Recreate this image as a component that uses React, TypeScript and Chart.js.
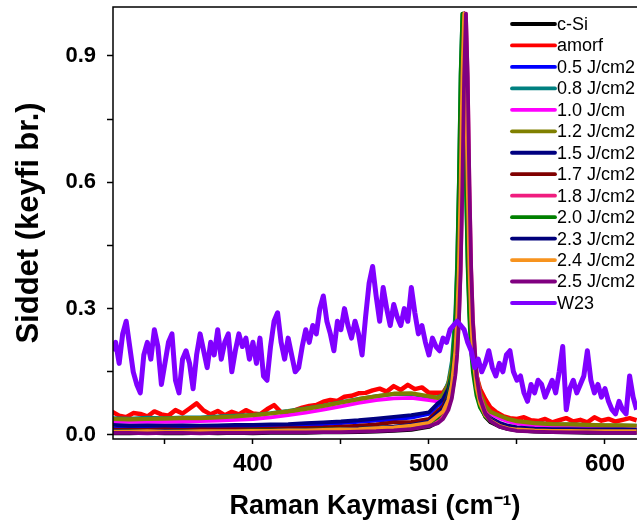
import { useEffect, useRef } from "react";
import { Chart, registerables } from "chart.js";

Chart.register(...registerables);

const FONT = "'Liberation Sans', Arial, sans-serif";

const LABELS = [
  "c-Si", "amorf", "0.5 J/cm2", "0.8 J/cm2", "1.0 J/cm", "1.2 J/cm2", "1.5 J/cm2",
  "1.7 J/cm2", "1.8 J/cm2", "2.0 J/cm2", "2.3 J/cm2", "2.4 J/cm2", "2.5 J/cm2", "W23",
];
const COLORS = [
  "#000000", "#FF0000", "#0000FF", "#008080", "#FF00FF", "#808000", "#000080",
  "#800000", "#F01D7F", "#008000", "#00007A", "#F7931E", "#800080", "#8000FF",
];
const WIDTHS = [3.8, 4.5, 3.8, 3.8, 3.8, 4.2, 3.8, 3.8, 3.8, 3.8, 3.8, 3.8, 3.8, 5];

const X_TICKS = [350, 400, 450, 500, 550, 600];
const X_LABELED = [400, 500, 600];
const Y_TICKS = [0, 0.15, 0.3, 0.45, 0.6, 0.75, 0.9];
const Y_LABELED = [0, 0.3, 0.6, 0.9];

const X_SMOOTH = [
  320, 330, 340, 350, 360, 370, 380, 390, 400, 410, 420, 430, 440, 450, 460, 470, 480, 490, 500,
  505, 508, 511, 513, 515, 516, 517, 518, 519, 520, 521, 522, 523, 524, 525, 527, 529, 532, 535,
  540, 545, 550, 560, 570, 580, 590, 600, 610, 618,
];

const Y_CSI = [
  0.004, 0.004, 0.005, 0.004, 0.004, 0.005, 0.004, 0.005, 0.004, 0.005, 0.005, 0.005, 0.006, 0.006, 0.007, 0.008, 0.01, 0.012, 0.019,
  0.03, 0.043, 0.071, 0.109, 0.19, 0.267, 0.39, 0.59, 0.85, 1.0, 0.85, 0.59, 0.39, 0.267, 0.19, 0.109, 0.071, 0.043, 0.03,
  0.02, 0.014, 0.011, 0.008, 0.007, 0.006, 0.005, 0.005, 0.005, 0.005,
];
const Y_P05 = [
  0.016, 0.015, 0.016, 0.016, 0.017, 0.016, 0.017, 0.018, 0.019, 0.02, 0.021, 0.023, 0.025, 0.028, 0.031, 0.034, 0.037, 0.041, 0.05,
  0.07, 0.075, 0.1, 0.135, 0.21, 0.285, 0.405, 0.6, 0.855, 1.0, 0.855, 0.595, 0.395, 0.272, 0.196, 0.116, 0.079, 0.052, 0.04,
  0.027, 0.02, 0.017, 0.014, 0.013, 0.013, 0.012, 0.012, 0.012, 0.011,
];
const Y_P08 = [
  0.04, 0.039, 0.041, 0.04, 0.042, 0.042, 0.044, 0.046, 0.048, 0.052, 0.057, 0.063, 0.07, 0.078, 0.086, 0.092, 0.097, 0.097, 0.09,
  0.09, 0.095, 0.125, 0.175, 0.29, 0.41, 0.6, 0.86, 1.0, 0.86, 0.6, 0.41, 0.29, 0.22, 0.175, 0.12, 0.09, 0.065, 0.053,
  0.045, 0.037, 0.032, 0.028, 0.026, 0.025, 0.024, 0.023, 0.022, 0.022,
];
const Y_P10 = [
  0.032, 0.031, 0.032, 0.031, 0.032, 0.033, 0.034, 0.036, 0.038, 0.042, 0.047, 0.053, 0.06, 0.068, 0.076, 0.083, 0.087, 0.088, 0.083,
  0.08, 0.085, 0.11, 0.15, 0.23, 0.305, 0.42, 0.615, 0.86, 1.0, 0.86, 0.61, 0.41, 0.29, 0.215, 0.135, 0.095, 0.065, 0.05,
  0.04, 0.032, 0.027, 0.023, 0.021, 0.02, 0.02, 0.019, 0.019, 0.018,
];
const Y_P12 = [
  0.038, 0.037, 0.038, 0.039, 0.04, 0.04, 0.042, 0.044, 0.047, 0.051, 0.056, 0.062, 0.069, 0.077, 0.085, 0.092, 0.098, 0.099, 0.092,
  0.088, 0.095, 0.12, 0.16, 0.24, 0.315, 0.43, 0.62, 0.865, 1.0, 0.865, 0.615, 0.42, 0.3, 0.225, 0.145, 0.1, 0.07, 0.055,
  0.046, 0.038, 0.033, 0.028, 0.026, 0.025, 0.024, 0.023, 0.023, 0.022,
];
const Y_P15 = [
  0.024, 0.022, 0.023, 0.022, 0.023, 0.022, 0.023, 0.024, 0.024, 0.025, 0.026, 0.028, 0.03, 0.032, 0.035, 0.039, 0.043, 0.047, 0.054,
  0.075, 0.085, 0.11, 0.145, 0.22, 0.295, 0.415, 0.605, 0.855, 1.0, 0.855, 0.6, 0.4, 0.275, 0.198, 0.118, 0.08, 0.052, 0.04,
  0.029, 0.022, 0.018, 0.015, 0.014, 0.014, 0.013, 0.013, 0.013, 0.012,
];
const Y_P17 = [
  0.013, 0.012, 0.012, 0.013, 0.012, 0.013, 0.013, 0.014, 0.014, 0.015, 0.016, 0.017, 0.018, 0.02, 0.022, 0.025, 0.03, 0.031, 0.038,
  0.058, 0.068, 0.095, 0.13, 0.21, 0.285, 0.405, 0.6, 0.855, 1.0, 0.855, 0.597, 0.396, 0.272, 0.195, 0.114, 0.076, 0.048, 0.035,
  0.024, 0.018, 0.015, 0.012, 0.011, 0.011, 0.011, 0.01, 0.01, 0.01,
];
const Y_P18 = [
  0.009, 0.008, 0.009, 0.009, 0.008, 0.009, 0.009, 0.01, 0.01, 0.01, 0.011, 0.011, 0.012, 0.013, 0.014, 0.016, 0.018, 0.02, 0.026,
  0.035, 0.044, 0.065, 0.093, 0.148, 0.195, 0.272, 0.395, 0.595, 0.853, 1.0, 0.853, 0.595, 0.395, 0.272, 0.148, 0.093, 0.056, 0.038,
  0.024, 0.017, 0.013, 0.01, 0.009, 0.009, 0.009, 0.008, 0.008, 0.008,
];
const Y_P20 = [
  0.009, 0.009, 0.01, 0.009, 0.009, 0.01, 0.01, 0.01, 0.011, 0.011, 0.011, 0.012, 0.013, 0.014, 0.015, 0.017, 0.019, 0.022, 0.029,
  0.042, 0.058, 0.094, 0.148, 0.272, 0.395, 0.595, 0.853, 1.0, 0.853, 0.595, 0.395, 0.272, 0.195, 0.148, 0.093, 0.065, 0.044, 0.033,
  0.022, 0.016, 0.013, 0.011, 0.01, 0.01, 0.009, 0.009, 0.009, 0.009,
];
const Y_P23 = [
  0.009, 0.008, 0.009, 0.009, 0.008, 0.009, 0.009, 0.009, 0.01, 0.01, 0.011, 0.011, 0.012, 0.013, 0.015, 0.017, 0.02, 0.024, 0.032,
  0.052, 0.062, 0.09, 0.127, 0.205, 0.28, 0.4, 0.6, 0.853, 1.0, 0.853, 0.595, 0.397, 0.274, 0.197, 0.116, 0.078, 0.05, 0.037,
  0.025, 0.019, 0.016, 0.013, 0.012, 0.012, 0.011, 0.011, 0.011, 0.011,
];
const Y_P24 = [
  0.008, 0.008, 0.009, 0.008, 0.008, 0.009, 0.009, 0.009, 0.01, 0.01, 0.011, 0.011, 0.012, 0.013, 0.014, 0.016, 0.018, 0.022, 0.029,
  0.046, 0.056, 0.083, 0.12, 0.2, 0.275, 0.397, 0.595, 0.852, 1.0, 0.852, 0.595, 0.394, 0.27, 0.193, 0.113, 0.075, 0.047, 0.034,
  0.022, 0.016, 0.013, 0.011, 0.01, 0.01, 0.009, 0.009, 0.009, 0.009,
];
const Y_P25 = [
  0.005, 0.005, 0.004, 0.005, 0.005, 0.004, 0.005, 0.005, 0.005, 0.006, 0.006, 0.006, 0.007, 0.007, 0.008, 0.009, 0.011, 0.014, 0.021,
  0.028, 0.038, 0.059, 0.087, 0.142, 0.19, 0.267, 0.39, 0.59, 0.85, 1.0, 0.85, 0.59, 0.39, 0.267, 0.142, 0.087, 0.05, 0.033,
  0.02, 0.014, 0.01, 0.008, 0.007, 0.006, 0.006, 0.005, 0.005, 0.005,
];

const X_AMORF = [
  320, 324, 328, 332, 336, 340, 344, 348, 352, 356, 360, 364, 368, 372, 376, 380, 384, 388, 392, 396,
  400, 404, 408, 412, 416, 420, 424, 428, 432, 436, 440, 444, 448, 452, 456, 460, 464, 468, 472, 476,
  480, 484, 488, 492, 496, 500,
  505, 508, 511, 513, 515, 516, 517, 518, 519, 520, 521, 522, 523, 524, 525, 527, 529, 532, 535,
  538, 542, 546, 550, 554, 558, 562, 566, 570, 574, 578, 582, 586, 590, 594, 598, 602, 606, 610, 614, 618,
];
const Y_AMORF = [
  0.055, 0.046, 0.042, 0.052, 0.05, 0.044, 0.056, 0.049, 0.046, 0.059, 0.051, 0.063, 0.075, 0.058, 0.049, 0.057, 0.047, 0.055, 0.049, 0.059,
  0.051, 0.049, 0.061, 0.071, 0.054, 0.051, 0.059, 0.065, 0.069, 0.071, 0.079, 0.083, 0.081, 0.091, 0.093, 0.099, 0.1, 0.106, 0.11, 0.103,
  0.116, 0.107, 0.119, 0.109, 0.113, 0.1,
  0.1, 0.1, 0.12, 0.155, 0.23, 0.305, 0.42, 0.615, 0.86, 1.0, 0.86, 0.6, 0.41, 0.29, 0.215, 0.14, 0.11, 0.085, 0.065,
  0.055, 0.045, 0.04, 0.038, 0.042, 0.035, 0.033, 0.038, 0.03, 0.035, 0.04, 0.032, 0.036, 0.03, 0.042, 0.034, 0.038, 0.032, 0.036, 0.04, 0.035,
];

const X_W23 = [
  320, 322, 324, 326, 328, 330, 332, 334, 336, 338,
  340, 342, 344, 346, 348, 350, 352, 354, 356, 358,
  360, 362, 364, 366, 368, 370, 372, 374, 376, 378,
  380, 382, 384, 386, 388, 390, 392, 394, 396, 398,
  400, 402, 404, 406, 408, 410, 412, 414, 416, 418,
  420, 422, 424, 426, 428, 430, 432, 434, 436, 438,
  440, 442, 444, 446, 448, 450, 452, 454, 456, 458,
  460, 462, 464, 466, 468, 470, 472, 474, 476, 478,
  480, 482, 484, 486, 488, 490, 492, 494, 496, 498,
  500, 502, 504, 506, 508, 510, 512, 514, 516, 518,
  520, 522, 524, 526, 528, 530, 532, 534, 536, 538,
  540, 542, 544, 546, 548, 550, 552, 554, 556, 558,
  560, 562, 564, 566, 568, 570, 572, 574, 576, 578,
  580, 582, 584, 586, 588, 590, 592, 594, 596, 598,
  600, 602, 604, 606, 608, 610, 612, 614, 616, 618,
];
const Y_W23 = [
  0.20, 0.22, 0.17, 0.24, 0.27, 0.21, 0.15, 0.12, 0.10, 0.19,
  0.22, 0.18, 0.25, 0.21, 0.12, 0.17, 0.22, 0.24, 0.13, 0.10,
  0.18, 0.20, 0.17, 0.11, 0.19, 0.24, 0.20, 0.16, 0.22, 0.19,
  0.25, 0.18, 0.22, 0.24, 0.15, 0.20, 0.24, 0.21, 0.23, 0.18,
  0.22, 0.17, 0.23, 0.14, 0.13, 0.21, 0.27, 0.29, 0.22, 0.18,
  0.23, 0.19, 0.15, 0.16, 0.21, 0.25, 0.22, 0.26, 0.24, 0.30,
  0.33, 0.27, 0.24, 0.20, 0.27, 0.25, 0.30, 0.26, 0.23, 0.27,
  0.24, 0.19, 0.28, 0.36, 0.40, 0.33, 0.27, 0.35, 0.30, 0.26,
  0.31, 0.28, 0.26, 0.30, 0.27, 0.35, 0.29, 0.24, 0.26, 0.22,
  0.19, 0.23, 0.21, 0.20, 0.23, 0.22, 0.25, 0.26, 0.27, 0.26,
  0.25, 0.22, 0.20, 0.16, 0.18, 0.15, 0.17, 0.20, 0.16, 0.14,
  0.17, 0.15, 0.19, 0.20, 0.15, 0.13, 0.14, 0.10, 0.08, 0.12,
  0.10, 0.13, 0.12, 0.09, 0.11, 0.13, 0.10, 0.15, 0.21, 0.06,
  0.11, 0.13, 0.10, 0.12, 0.14, 0.20, 0.13, 0.10, 0.12, 0.09,
  0.11, 0.08, 0.06, 0.05, 0.08, 0.06, 0.05, 0.14, 0.09, 0.06,
];

const SERIES_X = [
  X_SMOOTH, X_AMORF, X_SMOOTH, X_SMOOTH, X_SMOOTH, X_SMOOTH, X_SMOOTH,
  X_SMOOTH, X_SMOOTH, X_SMOOTH, X_SMOOTH, X_SMOOTH, X_SMOOTH, X_W23,
];
const SERIES_Y = [
  Y_CSI, Y_AMORF, Y_P05, Y_P08, Y_P10, Y_P12, Y_P15,
  Y_P17, Y_P18, Y_P20, Y_P23, Y_P24, Y_P25, Y_W23,
];

const framePlugin = {
  id: "frame",
  afterDraw(chart: any) {
    const { ctx, chartArea } = chart;
    const { left, top, right, bottom } = chartArea;
    ctx.save();
    ctx.strokeStyle = "#000";
    ctx.lineWidth = 1.5;
    ctx.beginPath();
    ctx.moveTo(right + 2, top);
    ctx.lineTo(left, top);
    ctx.lineTo(left, bottom);
    ctx.lineTo(right + 2, bottom);
    ctx.stroke();

    const x0 = 512;
    const x1 = 555;
    const y0 = 24;
    const dy = 21.46;
    ctx.font = `18px ${FONT}`;
    ctx.textBaseline = "middle";
    ctx.textAlign = "left";
    LABELS.forEach((label, i) => {
      const y = y0 + i * dy;
      ctx.strokeStyle = COLORS[i];
      ctx.lineWidth = 3.8;
      ctx.lineCap = "round";
      ctx.beginPath();
      ctx.moveTo(x0, y);
      ctx.lineTo(x1, y);
      ctx.stroke();
      ctx.fillStyle = "#000";
      ctx.fillText(label, x1 + 2, y + 1);
    });
    ctx.restore();
  },
};

const zeroPad = (s: any) => {
  s.paddingTop = 0;
  s.paddingBottom = 0;
  s.paddingLeft = 0;
  s.paddingRight = 0;
};

export default function App() {
  const ref = useRef<HTMLCanvasElement | null>(null);

  useEffect(() => {
    if (!ref.current) return;
    const n = LABELS.length;
    const datasets = LABELS.map((label, i) => ({
      label,
      data: SERIES_X[i].map((x, k) => ({ x, y: SERIES_Y[i][k] })),
      borderColor: COLORS[i],
      backgroundColor: COLORS[i],
      borderWidth: WIDTHS[i],
      borderJoinStyle: "round",
      pointRadius: 0,
      tension: 0,
      order: n - 1 - i,
    }));

    const chart = new Chart(ref.current, {
      type: "line",
      data: { datasets },
      plugins: [framePlugin],
      options: {
        responsive: false,
        animation: false,
        devicePixelRatio: 1,
        layout: { padding: { top: 7, right: 0, left: 0, bottom: 0 } },
        plugins: { legend: { display: false }, tooltip: { enabled: false } },
        scales: {
          x: {
            type: "linear",
            min: 320.5,
            max: 618.2,
            afterBuildTicks: (s: any) => {
              s.ticks = X_TICKS.map((v) => ({ value: v }));
            },
            afterFit: (s: any) => {
              s.height = 88;
              zeroPad(s);
            },
            ticks: {
              autoSkip: false,
              maxRotation: 0,
              color: "#000",
              padding: 6,
              font: { family: FONT, size: 24, weight: "bold" },
              callback: (v: any) => (X_LABELED.includes(v) ? String(v) : ""),
            },
            grid: {
              drawOnChartArea: false,
              drawTicks: true,
              tickLength: 5,
              tickColor: "#000",
              tickWidth: 1.5,
            },
            border: { display: false },
            title: {
              display: true,
              text: "Raman Kaymasi (cm⁻¹)",
              color: "#000",
              font: { family: FONT, size: 27, weight: "bold" },
              padding: { top: 0, bottom: 4 },
            },
          },
          y: {
            type: "linear",
            min: -0.0095,
            max: 1.016,
            afterBuildTicks: (s: any) => {
              s.ticks = Y_TICKS.map((v) => ({ value: v }));
            },
            afterFit: (s: any) => {
              s.width = 113;
              zeroPad(s);
            },
            ticks: {
              autoSkip: false,
              color: "#000",
              padding: 11,
              font: { family: FONT, size: 22, weight: "bold" },
              callback: (v: any) => (Y_LABELED.includes(v) ? Number(v).toFixed(1) : ""),
            },
            grid: {
              drawOnChartArea: false,
              drawTicks: true,
              tickLength: 6,
              tickColor: "#000",
              tickWidth: 1.5,
            },
            border: { display: false },
            title: {
              display: true,
              text: "Siddet (keyfi br.)",
              color: "#000",
              font: { family: FONT, size: 31, weight: "bold" },
              padding: { top: 11, bottom: 0 },
            },
          },
        },
      },
    } as any);

    return () => chart.destroy();
  }, []);

  return (
    <div style={{ position: "absolute", left: 0, top: 0, width: 637, height: 527 }}>
      <canvas ref={ref} width={637} height={527} style={{ display: "block" }} />
    </div>
  );
}
